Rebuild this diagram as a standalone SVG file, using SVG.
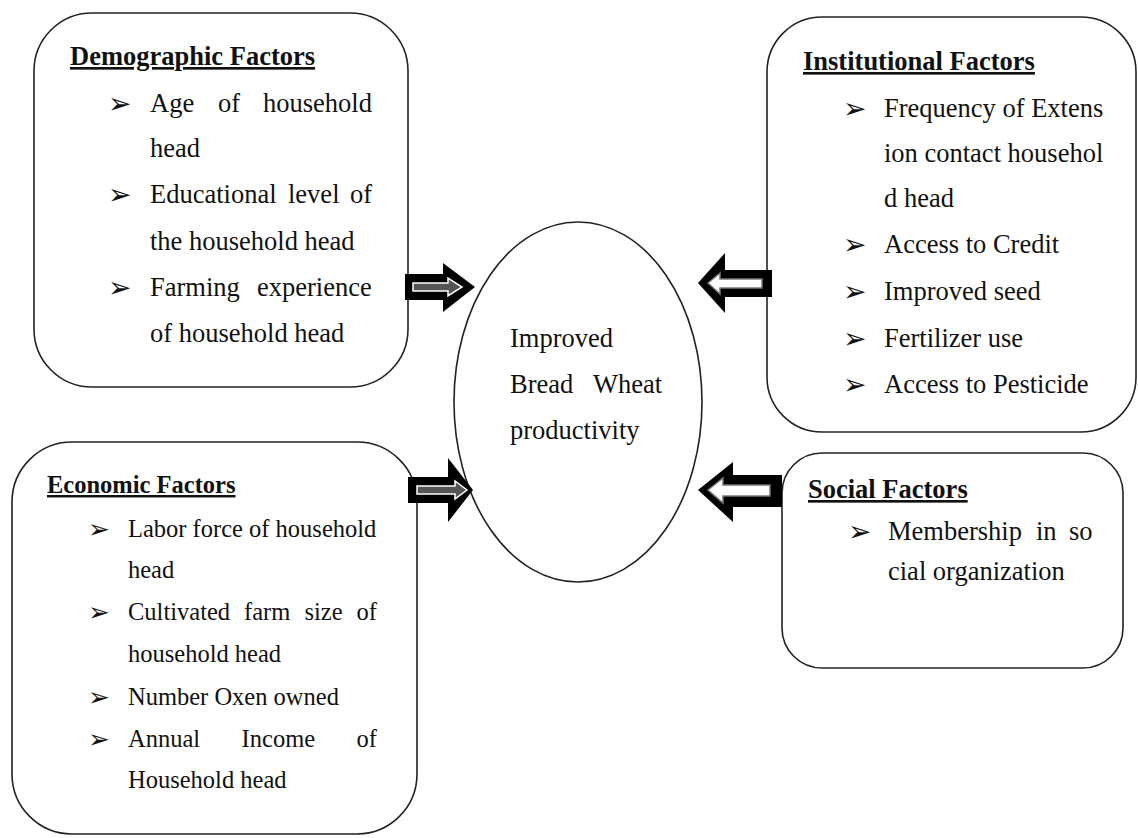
<svg xmlns="http://www.w3.org/2000/svg" width="1138" height="838" viewBox="0 0 1138 838">
<style>
.box{fill:#fff;stroke:#222;stroke-width:1.6}
.t{font-family:"Liberation Serif","Times New Roman",serif;font-size:26.5px;fill:#111}
.te{font-family:"Liberation Serif","Times New Roman",serif;font-size:24.5px;fill:#111}
.h{font-weight:bold;text-decoration:underline}
.b{font-family:"DejaVu Sans",sans-serif;font-size:28px;fill:#111}
.arr{fill:#000;stroke:none}
.inA{fill:#555;stroke:#fff;stroke-width:1.5}
.inB{fill:#fff;stroke:#777;stroke-width:1.5}
</style>
<rect width="1138" height="838" fill="#fff"/>
<g id="demographic">
<rect class="box" x="34" y="13" width="374" height="374" rx="58" ry="58"/>
<text class="t h" x="70" y="65">Demographic Factors</text>
<text class="b" x="108" y="113">➢</text>
<text class="t" y="112"><tspan x="150">Age</tspan><tspan x="218">of</tspan><tspan x="263">household</tspan></text>
<text class="t" x="150" y="157">head</text>
<text class="b" x="108" y="204">➢</text>
<text class="t" y="203"><tspan x="150">Educational</tspan><tspan x="288">level</tspan><tspan x="350">of</tspan></text>
<text class="t" x="150" y="250">the household head</text>
<text class="b" x="108" y="297">➢</text>
<text class="t" y="296"><tspan x="150">Farming</tspan><tspan x="257">experience</tspan></text>
<text class="t" x="150" y="342">of household head</text>
</g>
<g id="institutional">
<rect class="box" x="767" y="17" width="369" height="415" rx="55" ry="55"/>
<text class="t h" x="803" y="70">Institutional Factors</text>
<text class="b" x="843" y="118">➢</text>
<text class="t" x="884" y="117">Frequency of Extens</text>
<text class="t" x="884" y="162">ion contact househol</text>
<text class="t" x="884" y="207">d head</text>
<text class="b" x="843" y="254">➢</text>
<text class="t" x="884" y="253">Access to Credit</text>
<text class="b" x="843" y="301">➢</text>
<text class="t" x="884" y="300">Improved seed</text>
<text class="b" x="843" y="348">➢</text>
<text class="t" x="884" y="347">Fertilizer use</text>
<text class="b" x="843" y="394">➢</text>
<text class="t" x="884" y="393">Access to Pesticide</text>
</g>
<g id="economic">
<rect class="box" x="12" y="442" width="405" height="392" rx="60" ry="60"/>
<text class="te h" x="47" y="493">Economic Factors</text>
<text class="b" x="88" y="538" style="font-size:26px">➢</text>
<text class="te" x="128" y="537">Labor force of household</text>
<text class="te" x="128" y="578">head</text>
<text class="b" x="88" y="621" style="font-size:26px">➢</text>
<text class="te" y="620"><tspan x="128">Cultivated</tspan><tspan x="244">farm</tspan><tspan x="304.5">size</tspan><tspan x="356.6">of</tspan></text>
<text class="te" x="128" y="662">household head</text>
<text class="b" x="88" y="706" style="font-size:26px">➢</text>
<text class="te" x="128" y="705">Number Oxen owned</text>
<text class="b" x="88" y="748" style="font-size:26px">➢</text>
<text class="te" y="747"><tspan x="128">Annual</tspan><tspan x="241.6">Income</tspan><tspan x="356.6">of</tspan></text>
<text class="te" x="128" y="788">Household head</text>
</g>
<g id="social">
<rect class="box" x="782" y="453" width="341" height="215" rx="40" ry="40"/>
<text class="t h" x="808" y="498">Social Factors</text>
<text class="b" x="848" y="541">➢</text>
<text class="t" y="540"><tspan x="888">Membership</tspan><tspan x="1036">in</tspan><tspan x="1069">so</tspan></text>
<text class="t" x="888" y="580">cial organization</text>
</g>
<g id="outcome">
<ellipse class="box" cx="578" cy="402" rx="124" ry="180" stroke-width="1.3"/>
<text class="t" x="510" y="347">Improved</text>
<text class="t" y="393"><tspan x="510">Bread</tspan><tspan x="593">Wheat</tspan></text>
<text class="t" x="510" y="439">productivity</text>
</g>
<g id="connectors">
<polygon class="arr" points="405,274 443,274 443,263 475,287 443,312 443,300 405,300"/>
<polygon class="inA" points="413,283 448,283 448,278 462,287 448,296 448,291 413,291"/>
<polygon class="arr" points="772,270 725,270 725,253 698,283 725,313 725,297 772,297"/>
<polygon class="inB" points="762,279 720,279 720,273 708,283 720,294 720,288 762,288"/>
<polygon class="arr" points="408,477 448,477 448,458 473,490 448,522 448,503 408,503"/>
<polygon class="inA" points="417,486 455,486 455,481 467,490 455,499 455,494 417,494"/>
<polygon class="arr" points="782,475 733,475 733,462 698,490 733,522 733,507 782,507"/>
<polygon class="inB" points="770,485 723,485 723,478 708,490 723,503 723,496 770,496"/>
</g>
</svg>
